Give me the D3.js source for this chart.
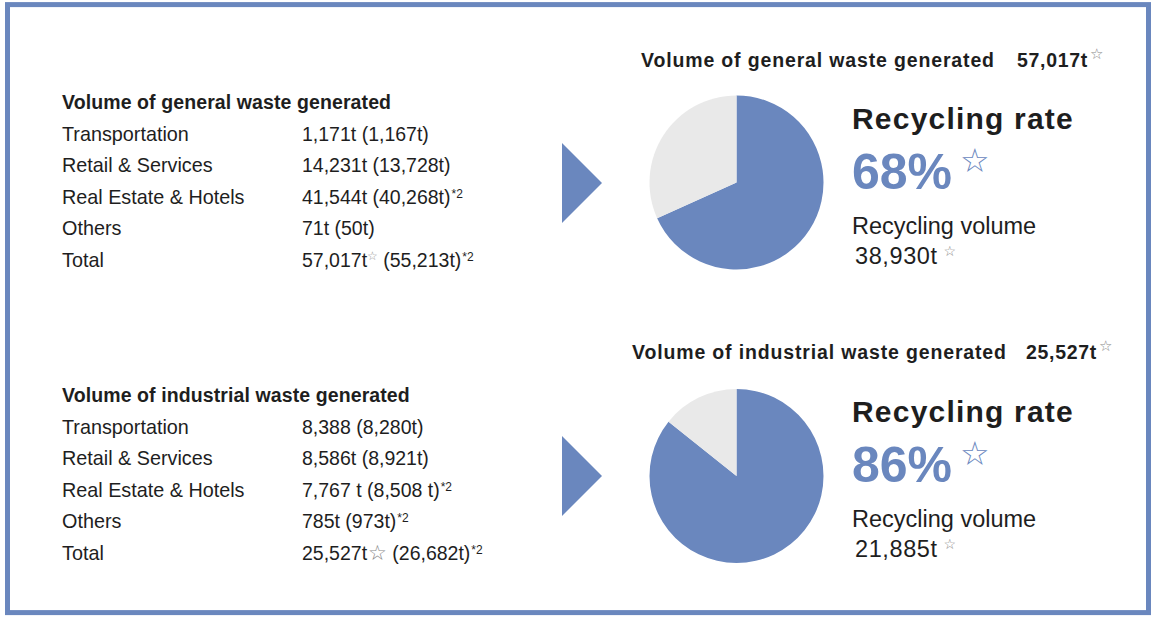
<!DOCTYPE html>
<html>
<head>
<meta charset="utf-8">
<script src="https://cdn.jsdelivr.net/npm/d3@7"></script>
<style>
  body { margin: 0; background: #fff; }
  svg { display: block; font-family: "Liberation Sans", Arial, Helvetica, sans-serif; }
  .star { font-family: "DejaVu Sans", sans-serif; }
</style>
</head>
<body>
<div id="chart"></div>
<script>
const sectors = ["Transportation", "Retail & Services", "Real Estate & Hotels", "Others", "Total"];

const generalNow = ["1,171t", "14,231t", "41,544t", "71t", "57,017t"];
const generalPrev = ["1,167t", "13,728t", "40,268t", "50t", "55,213t"];
const generalNote = [false, false, true, false, true];
const generalStar = [null, null, null, null, "small"];

const industrialNow = ["8,388", "8,586t", "7,767 t", "785t", "25,527t"];
const industrialPrev = ["8,280t", "8,921t", "8,508 t", "973t", "26,682t"];
const industrialNote = [false, false, true, true, true];
const industrialStar = [null, null, null, null, "big"];

const wasteTitles = ["Volume of general waste generated", "Volume of industrial waste generated"];
const wasteTotals = [57017, 25527];
const recycledVolumes = [38930, 21885];
const recyclingRates = [68, 86];

const BLUE = "#6a87be";
const GREY = "#e9e9e9";
const INK = "#1e1e1e";

const width = 1160, height = 623;
const fmt = d3.format(",");

const svg = d3.select("#chart").append("svg")
  .attr("width", width)
  .attr("height", height);

// frame
svg.append("rect")
  .attr("x", 7.5).attr("y", 4.6)
  .attr("width", 1141).attr("height", 608)
  .attr("fill", "#fff")
  .attr("stroke", BLUE)
  .attr("stroke-width", 5);

const blocks = [
  {title: wasteTitles[0], now: generalNow, prev: generalPrev, note: generalNote, star: generalStar, top: 0},
  {title: wasteTitles[1], now: industrialNow, prev: industrialPrev, note: industrialNote, star: industrialStar, top: 293}
];

const pie = d3.pie().sort(null).value(d => d);
const arc = d3.arc().innerRadius(0).outerRadius(87);

blocks.forEach((b, bi) => {
  const g = svg.append("g").attr("transform", `translate(0,${b.top})`);

  // left table
  g.append("text")
    .attr("x", 62).attr("y", 108.5)
    .attr("font-size", 19.5)
    .attr("font-weight", "bold")
    .attr("letter-spacing", 0.1)
    .attr("fill", INK)
    .text(b.title);

  const rowY = d3.scaleLinear().domain([0, 4]).range([140.7, 266.5]);

  sectors.forEach((s, i) => {
    g.append("text")
      .attr("x", 62).attr("y", rowY(i))
      .attr("font-size", 19.8)
      .attr("fill", INK)
      .text(s);

    const t = g.append("text")
      .attr("x", 302).attr("y", rowY(i))
      .attr("font-size", 19.5)
      .attr("fill", INK);
    t.append("tspan").text(b.now[i]);
    if (b.star[i] === "small") {
      t.append("tspan").attr("class", "star").attr("font-size", 12).attr("fill", "#999")
        .attr("dy", -7).text("\u2606");
      t.append("tspan").attr("dy", 7).text(` (${b.prev[i]})`);
    } else if (b.star[i] === "big") {
      t.append("tspan").attr("class", "star").attr("font-size", 21).attr("fill", "#888")
        .attr("dx", 1).text("\u2606");
      t.append("tspan").text(` (${b.prev[i]})`);
    } else {
      t.append("tspan").text(` (${b.prev[i]})`);
    }
    if (b.note[i]) {
      t.append("tspan").attr("font-size", 12).attr("dx", 1).attr("dy", -6).text("*2");
    }
  });

  // arrow
  const cy = 183;
  g.append("path")
    .attr("d", d3.line()([[562, cy - 40], [602, cy], [562, cy + 40]]) + "Z")
    .attr("fill", BLUE);

  // right title
  const titleY = bi === 0 ? 66.5 : 66.3;
  const titleX = bi === 0 ? 641 : 632;
  const numX = bi === 0 ? 1017 : 1026;
  g.append("text")
    .attr("x", titleX).attr("y", titleY)
    .attr("font-size", 19.5)
    .attr("font-weight", "bold")
    .attr("letter-spacing", 0.85)
    .attr("fill", INK)
    .text(b.title);
  const nt = g.append("text")
    .attr("x", numX).attr("y", titleY)
    .attr("font-size", 19.5)
    .attr("font-weight", "bold")
    .attr("letter-spacing", 0.7)
    .attr("fill", INK);
  nt.append("tspan").text(fmt(wasteTotals[bi]) + "t");
  nt.append("tspan").attr("class", "star").attr("font-size", 15).attr("font-weight", "normal")
    .attr("fill", "#888").attr("dx", 2).attr("dy", -8).text("\u2606");

  // pie
  const cyPie = bi === 0 ? 182.5 : 183;
  const pg = g.append("g").attr("transform", `translate(736.5,${cyPie})`);
  const vals = [recycledVolumes[bi], wasteTotals[bi] - recycledVolumes[bi]];
  pg.selectAll("path")
    .data(pie(vals))
    .join("path")
    .attr("d", arc)
    .attr("fill", (d, i) => i === 0 ? BLUE : GREY);

  // recycling figures
  g.append("text")
    .attr("x", 852).attr("y", 129)
    .attr("font-size", 30)
    .attr("font-weight", "bold")
    .attr("letter-spacing", 1.2)
    .attr("fill", INK)
    .text("Recycling rate");

  const rt = g.append("text")
    .attr("x", 852).attr("y", 189)
    .attr("font-size", 50)
    .attr("font-weight", "bold")
    .attr("fill", BLUE);
  rt.append("tspan").text(recyclingRates[bi] + "%");
  rt.append("tspan").attr("class", "star").attr("font-size", 33).attr("font-weight", "normal")
    .attr("dx", 8).attr("dy", -17).text("\u2606");

  g.append("text")
    .attr("x", 852).attr("y", 234)
    .attr("font-size", 23.5)
    .attr("fill", INK)
    .text("Recycling volume");

  const vt = g.append("text")
    .attr("x", 855).attr("y", 264)
    .attr("font-size", 23.5)
    .attr("letter-spacing", 0.6)
    .attr("fill", INK);
  vt.append("tspan").text(fmt(recycledVolumes[bi]) + "t");
  vt.append("tspan").attr("class", "star").attr("font-size", 14)
    .attr("fill", "#888").attr("dx", 6).attr("dy", -8).text("\u2606");
});
</script>
</body>
</html>
